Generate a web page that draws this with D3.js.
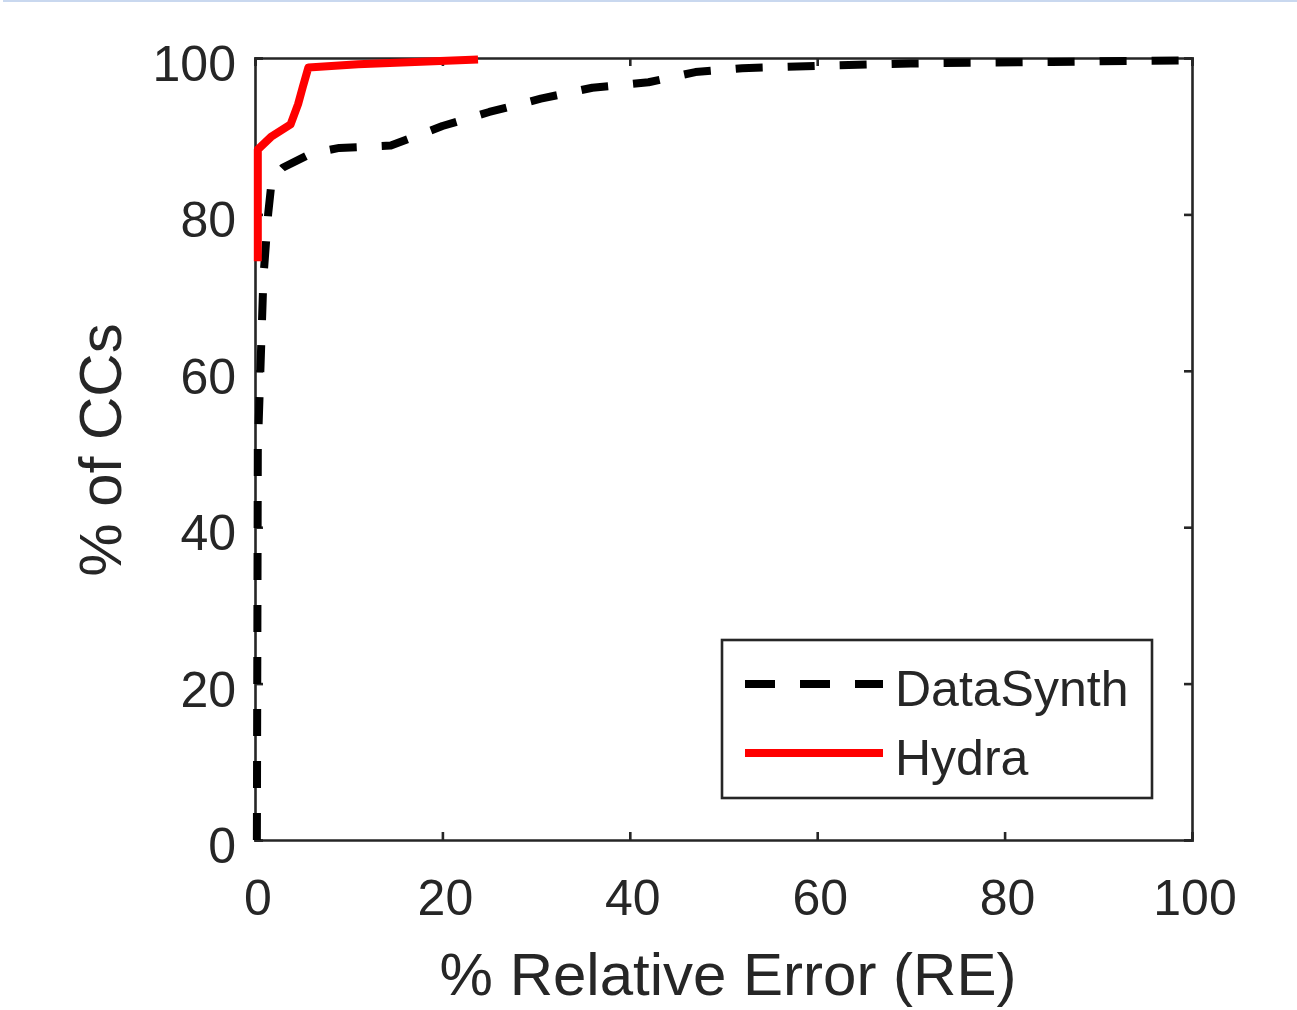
<!DOCTYPE html>
<html>
<head>
<meta charset="utf-8">
<script src="https://cdn.jsdelivr.net/npm/d3@7"></script>
<style>
  html, body { margin: 0; padding: 0; background: #fff; }
  svg { display: block; }
  text { font-family: "Liberation Sans", Arial, Helvetica, sans-serif; fill: #262626; }
</style>
</head>
<body>
<svg id="chart" width="1297" height="1010"></svg>
<script>
// ---- data ----
const seriesNames = ["DataSynth", "Hydra"];
const dataSynthRE  = [0.2, 0.3, 0.9, 1.4, 1.8, 3.0, 6.0, 9.0, 14.5, 20.0, 25.0, 30.5, 36.0, 42.0, 47.0, 52.0, 60.0, 70.0, 85.0, 100.0];
const dataSynthPct = [0.0, 50.0, 72.0, 80.0, 84.5, 86.0, 87.8, 88.5, 88.8, 91.3, 93.1, 94.8, 96.2, 96.9, 98.2, 98.7, 99.0, 99.3, 99.5, 99.7];
const hydraRE  = [0.3, 0.3, 1.7, 3.8, 4.6, 5.1, 5.7, 11.0, 23.8];
const hydraPct = [74.0, 88.3, 89.9, 91.5, 94.1, 96.3, 98.8, 99.2, 99.8];
const xTicks = [0, 20, 40, 60, 80, 100];
const yTicks = [0, 20, 40, 60, 80, 100];
const xTitle = "% Relative Error (RE)";
const yTitle = "% of CCs";

// ---- layout ----
const svg = d3.select("#chart");
const L = 255, R = 1192, T = 58, B = 840;
const x = d3.scaleLinear().domain([0, 100]).range([L, R]);
const y = d3.scaleLinear().domain([0, 100]).range([B, T]);
const axisColor = "#262626";

// top light-blue border strip from the screenshot
svg.append("rect").attr("x", 3).attr("y", 0).attr("width", 1294).attr("height", 2).attr("fill", "#c9d8ef");

// frame axes with inward ticks on all sides
const tickLen = 8;
const g = svg.append("g");
const axB = d3.axisBottom(x).tickValues(xTicks).tickSize(-tickLen).tickFormat("");
const axT = d3.axisTop(x).tickValues(xTicks).tickSize(-tickLen).tickFormat("");
const axLft = d3.axisLeft(y).tickValues(yTicks).tickSize(-tickLen).tickFormat("");
const axRgt = d3.axisRight(y).tickValues(yTicks).tickSize(-tickLen).tickFormat("");
[[axB, `translate(0,${B})`], [axT, `translate(0,${T})`], [axLft, `translate(${L},0)`], [axRgt, `translate(${R},0)`]].forEach(([ax, tr]) => {
  const a = g.append("g").attr("transform", tr).call(ax);
  a.selectAll(".domain").attr("stroke", axisColor).attr("stroke-width", 2.6);
  a.selectAll(".tick line").attr("stroke", axisColor).attr("stroke-width", 2.6);
});

// tick labels
svg.append("g").selectAll("text").data(xTicks).join("text")
  .attr("x", d => x(d) + 3).attr("y", 915)
  .attr("text-anchor", "middle").attr("font-size", 50)
  .text(d => d);
svg.append("g").selectAll("text").data(yTicks).join("text")
  .attr("x", 236).attr("y", d => y(d) + 23)
  .attr("text-anchor", "end").attr("font-size", 50)
  .text(d => d);

// axis titles
svg.append("text").attr("x", 728).attr("y", 995).attr("text-anchor", "middle")
  .attr("font-size", 60).text(xTitle);
svg.append("text").attr("transform", "translate(121,450) rotate(-90)").attr("text-anchor", "middle")
  .attr("font-size", 60).text(yTitle);

// lines
const line = d3.line().x(d => x(d[0])).y(d => y(d[1]));
const dsData = dataSynthRE.map((v, i) => [v, dataSynthPct[i]]);
const hyData = hydraRE.map((v, i) => [v, hydraPct[i]]);
const colors = { DataSynth: "#000000", Hydra: "#ff0000" };

svg.append("path").datum(dsData).attr("d", line)
  .attr("fill", "none").attr("stroke", colors.DataSynth).attr("stroke-width", 8)
  .attr("stroke-dasharray", "27,25").attr("stroke-linejoin", "round");
svg.append("path").datum(hyData).attr("d", line)
  .attr("fill", "none").attr("stroke", colors.Hydra).attr("stroke-width", 8)
  .attr("stroke-linejoin", "round");

// legend
const lg = svg.append("g");
lg.append("rect").attr("x", 722).attr("y", 640).attr("width", 430).attr("height", 158)
  .attr("fill", "#fff").attr("stroke", axisColor).attr("stroke-width", 2.6);
const legendRows = [
  { name: seriesNames[0], y: 684, dash: "30,25" },
  { name: seriesNames[1], y: 753, dash: null }
];
legendRows.forEach(r => {
  const ln = lg.append("line").attr("x1", 745).attr("x2", 883).attr("y1", r.y).attr("y2", r.y)
    .attr("stroke", colors[r.name]).attr("stroke-width", 8);
  if (r.dash) ln.attr("stroke-dasharray", r.dash);
  lg.append("text").attr("x", 895).attr("y", r.y + 22).attr("font-size", 50).text(r.name);
});
</script>
</body>
</html>
